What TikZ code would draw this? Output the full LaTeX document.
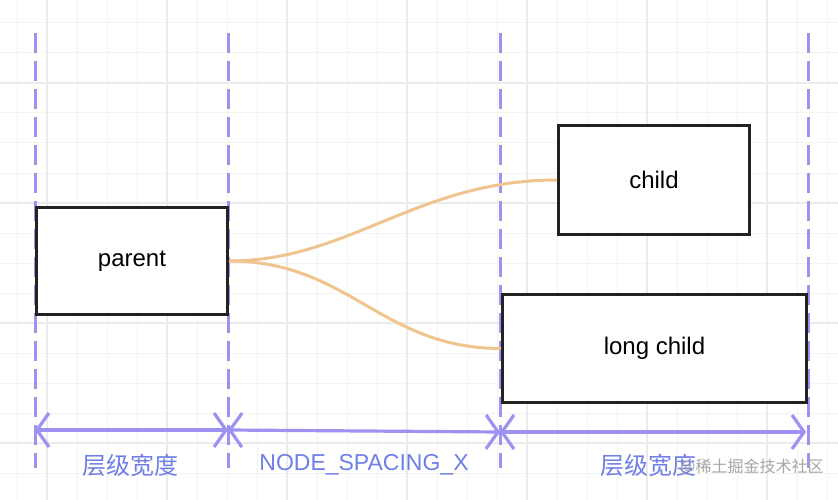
\documentclass[tikz,border=0pt]{standalone}
\usepackage{fontspec}
\setmainfont{Liberation Sans}
\newfontfamily\cjk{Noto Sans CJK SC}
\usetikzlibrary{arrows.meta}
\definecolor{gridc}{HTML}{F3F3F3}
\definecolor{gridm}{HTML}{EBEBEB}
\definecolor{guide}{HTML}{9D92F2}
\definecolor{lab}{HTML}{6F7FE6}
\definecolor{edge}{HTML}{F0C48E}
\definecolor{boxc}{HTML}{222222}
\begin{document}
\begin{tikzpicture}[x=1pt,y=-1pt,
  box/.style={draw=boxc,line width=3pt,fill=white,inner sep=0pt,anchor=north west},
  txt/.style={font=\fontsize{24}{28}\selectfont},
  guideline/.style={draw=guide,line width=3pt,dash pattern=on 20pt off 8pt},
  span/.style={draw=guide,line width=3.2pt,{Straight Barb[length=12pt,width=34pt]}-{Straight Barb[length=12pt,width=34pt]}},
  lbl/.style={text=lab,font=\fontsize{23}{28}\selectfont},
  clbl/.style={text=lab,font=\cjk\fontsize{24}{30}\selectfont},
  con/.style={draw=edge,line width=3pt}]
\useasboundingbox (0,0) rectangle (838,500);
\fill[white] (0,0) rectangle (838,500);
\foreach \x in {17,47,...,838} \draw[gridc,line width=1pt] (\x,0) -- (\x,500);
\foreach \y in {23,53,...,500} \draw[gridc,line width=1pt] (0,\y) -- (838,\y);
\foreach \x in {47,167,...,838} \draw[gridm,line width=1.2pt] (\x,0) -- (\x,500);
\foreach \y in {83,203,...,500} \draw[gridm,line width=1.2pt] (0,\y) -- (838,\y);
\foreach \x in {35,228,500,808} \draw[guideline] (\x,33) -- (\x,468);
\node[box,minimum width=191pt,minimum height=107pt] (parent) at (35,206) {};
\node[txt] at (parent.center) {parent};
\node[box,minimum width=191pt,minimum height=109pt] (child) at (557,124) {};
\node[txt] at (child.center) {child};
\node[box,minimum width=304pt,minimum height=108pt] (long) at (501,293) {};
\node[txt] at (long.center) {long child};
\draw[con] (parent.east) .. controls +(120,0) and +(-140,0) .. (child.west);
\draw[con] (parent.east) .. controls +(120,0) and +(-120,0) .. (long.west);
\coordinate (a0) at (35,430);
\coordinate (a1) at (228,430);
\coordinate (a2) at (500,432);
\coordinate (a3) at (806,432);
\draw[span] (a0) -- (a1);
\draw[span] (a1) -- (a2);
\draw[span] (a2) -- (a3);
\node[clbl] (l1) at (130,465) {层级宽度};
\node[lbl] (l2) at (364,465) {NODE\_SPACING\_X};
\node[clbl] (l3) at (648,465) {层级宽度};
\node[text=black!35,font=\cjk\fontsize{16}{20}\selectfont] (wm) at (752,467) {@稀土掘金技术社区};
\end{tikzpicture}
\end{document}
